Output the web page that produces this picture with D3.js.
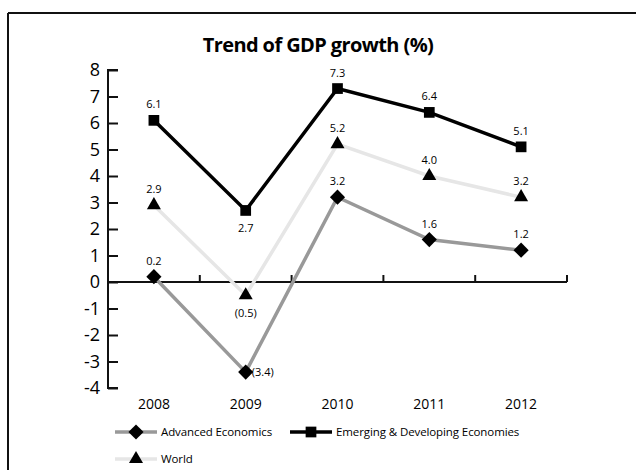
<!DOCTYPE html>
<html>
<head>
<meta charset="utf-8">
<script src="https://cdn.jsdelivr.net/npm/d3@7"></script>
<style>
  body { margin: 0; background: #fff; }
  svg { font-family: "Open Sans", "Noto Sans", sans-serif; }
</style>
</head>
<body>
<svg id="chart" width="636" height="470"></svg>
<script>
// chart data
var years = ["2008", "2009", "2010", "2011", "2012"];
var advanced = [0.2, -3.4, 3.2, 1.6, 1.2];
var emerging = [6.1, 2.7, 7.3, 6.4, 5.1];
var world = [2.9, -0.5, 5.2, 4.0, 3.2];
var yTicks = [8, 7, 6, 5, 4, 3, 2, 1, 0, -1, -2, -3, -4];

var svg = d3.select("#chart");

var margin = {left: 108, right: 69, top: 70, bottom: 82};
var width = 636 - margin.left - margin.right;
var height = 470 - margin.top - margin.bottom;

var x = d3.scaleBand().domain(years).range([margin.left, margin.left + width]);
var y = d3.scaleLinear().domain([-4, 8]).range([margin.top + height, margin.top]);

// frame (only top and left edges are visible)
svg.append("line").attr("x1", 8).attr("x2", 636).attr("y1", 13).attr("y2", 13)
    .attr("stroke", "#111").attr("stroke-width", 2);
svg.append("line").attr("x1", 8).attr("x2", 8).attr("y1", 13).attr("y2", 470)
    .attr("stroke", "#111").attr("stroke-width", 2);

svg.append("text")
    .attr("x", 318).attr("y", 52)
    .attr("text-anchor", "middle")
    .style("font-size", "20px").style("font-weight", "bold")
    .style("letter-spacing", "-0.6px")
    .text("Trend of GDP growth (%)");

// y axis
var yAxis = d3.axisRight(y).tickValues(yTicks).tickSize(10).tickFormat("");
var yg = svg.append("g").attr("transform", "translate(" + margin.left + ",0)").call(yAxis);
yg.select(".domain").attr("stroke", "#111").attr("stroke-width", 2)
    .attr("d", "M" + 10 + "," + y(8) + "H0V" + y(-4) + "H10");
yg.selectAll(".tick line").attr("stroke", "#111").attr("stroke-width", 2);

svg.selectAll(".ylab").data(yTicks).enter().append("text")
    .attr("class", "ylab")
    .attr("x", 100).attr("y", (d) => y(d) + 6)
    .attr("text-anchor", "end")
    .style("font-size", "18px")
    .text((d) => d);

// x axis at zero with boundary ticks pointing up
var bounds = years.map((d) => x(d)).concat([margin.left + width]);
svg.append("line").attr("x1", margin.left).attr("x2", margin.left + width)
    .attr("y1", y(0)).attr("y2", y(0)).attr("stroke", "#111").attr("stroke-width", 2);
svg.selectAll(".xtick").data(bounds.slice(1)).enter().append("line")
    .attr("x1", (d) => d).attr("x2", (d) => d)
    .attr("y1", y(0)).attr("y2", y(0) - 7)
    .attr("stroke", "#111").attr("stroke-width", 2);

svg.selectAll(".xlab").data(years).enter().append("text")
    .attr("x", (d) => x(d) + x.bandwidth() / 2)
    .attr("y", 409)
    .attr("text-anchor", "middle")
    .style("font-size", "14px")
    .text((d) => d);

var cx = (i) => x(years[i]) + x.bandwidth() / 2;
var line = d3.line().x((d, i) => cx(i)).y((d) => y(d));

function fmt(v) {
    return v < 0 ? "(" + Math.abs(v).toFixed(1) + ")" : v.toFixed(1);
}

var series = [
    {name: "World", values: world, color: "#e6e6e6", width: 3.5, symbol: d3.symbolTriangle, size: 85, rot: 0},
    {name: "Advanced Economics", values: advanced, color: "#999999", width: 3.5, symbol: d3.symbolSquare, size: 115, rot: 45},
    {name: "Emerging & Developing Economies", values: emerging, color: "#000000", width: 3.5, symbol: d3.symbolSquare, size: 115, rot: 0}
];

series.forEach(function(s) {
    svg.append("path").datum(s.values)
        .attr("d", line).attr("fill", "none")
        .attr("stroke", s.color).attr("stroke-width", s.width);
});

series.forEach(function(s) {
    svg.selectAll(null).data(s.values).enter().append("path")
        .attr("d", d3.symbol().type(s.symbol).size(s.size))
        .attr("transform", (d, i) => "translate(" + cx(i) + "," + y(d) + ") rotate(" + s.rot + ")")
        .attr("fill", "#000");
});

// value labels
function labelPos(s, d, i) {
    if (s.name === "Advanced Economics" && d < 0) return {dx: 17, dy: 4, anchor: "middle"};
    if (i === 1 && s.name !== "Advanced Economics") return {dx: 0, dy: 22, anchor: "middle"};
    return {dx: 0, dy: -12, anchor: "middle"};
}
series.forEach(function(s) {
    svg.selectAll(null).data(s.values).enter().append("text")
        .attr("x", (d, i) => cx(i) + labelPos(s, d, i).dx)
        .attr("y", (d, i) => y(d) + labelPos(s, d, i).dy)
        .attr("text-anchor", (d, i) => labelPos(s, d, i).anchor)
        .style("font-size", "11px")
        .text(fmt);
});

// legend
var legend = [
    {s: series[1], x: 115, y: 432},
    {s: series[2], x: 290, y: 432},
    {s: series[0], x: 115, y: 459}
];
legend.forEach(function(l) {
    var g = svg.append("g").attr("transform", "translate(" + l.x + "," + l.y + ")");
    g.append("line").attr("x1", 0).attr("x2", 42).attr("y1", 0).attr("y2", 0)
        .attr("stroke", l.s.color).attr("stroke-width", l.s.width);
    g.append("path").attr("d", d3.symbol().type(l.s.symbol).size(l.s.size))
        .attr("transform", "translate(21,0) rotate(" + l.s.rot + ")").attr("fill", "#000");
    g.append("text").attr("x", 46).attr("y", 4)
        .style("font-size", "11.5px").style("letter-spacing", "-0.1px")
        .text(l.s.name);
});
</script>
</body>
</html>
